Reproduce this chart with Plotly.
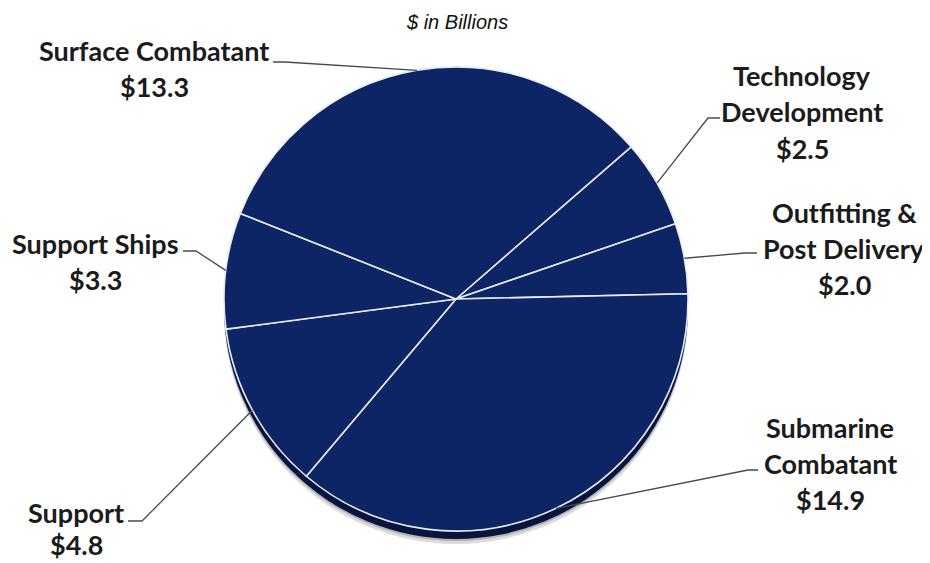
import math
import plotly.graph_objects as go

# ---- data ----
categories = ["Technology Development", "Outfitting & Post Delivery", "Submarine Combatant",
              "Support", "Support Ships", "Surface Combatant"]
values = [2.5, 2.0, 14.9, 4.8, 3.3, 13.3]
label_lines = [["Technology", "Development"], ["Outfitting &", "Post Delivery"],
               ["Submarine", "Combatant"], ["Support"], ["Support Ships"], ["Surface Combatant"]]
title_text = "$ in Billions"

# ---- layout (window pixels) ----
OFF = 8                      # page body margin
W, H = 930 - OFF, 563 - OFF  # figure size
cx, cy, r = 456, 299, 232
rotation = 49
# label text centre x, first-line y, line gap; leader (start, knee)
label_pos = [
    (802, 75, 36.5, (720, 118), (708, 118)),
    (844, 212, 36, (757, 253), (745, 253)),
    (830, 427, 36, (758, 470), (748, 470)),
    (76, 512, 32, (128, 521), (142, 521)),
    (95, 243, 36, (183, 251), (196, 251)),
    (154, 50, 36, (273, 62), (285, 62)),
]

def px(x):
    return (x - OFF) / W

def py(y):
    return 1 - (y - OFF) / H

NAVY = "#0d2564"
TXT = "#1b1b1b"
FONT = "Lato"

fig = go.Figure()
fig.add_trace(go.Pie(
    labels=categories, values=values, sort=False, direction="clockwise",
    rotation=rotation, textinfo="none", hoverinfo="label+value",
    marker=dict(colors=[NAVY] * len(values), line=dict(color="#e8ecf4", width=1.6)),
    domain=dict(x=[px(cx - r), px(cx + r)], y=[py(cy + r), py(cy - r)]),
    showlegend=False,
))

shapes = []
# shadow and rim below the pie face
for dy, col, op in [(13, "#9a9a9a", 0.35), (10, "#8a8a8a", 0.5), (8, "#06143f", 1.0)]:
    shapes.append(dict(type="circle", xref="paper", yref="paper", layer="below",
                       x0=px(cx - r), x1=px(cx + r), y0=py(cy + r + dy), y1=py(cy - r + dy),
                       fillcolor=col, opacity=op, line=dict(width=0)))

annotations = []
total = sum(values)
start = rotation
for i, v in enumerate(values):
    ang = v / total * 360
    mid = math.radians(start + ang / 2)
    start += ang
    ex = cx + r * math.sin(mid)
    ey = cy - r * math.cos(mid)
    tx, ty, gap, p0, p1 = label_pos[i]
    shapes.append(dict(type="path", xref="paper", yref="paper",
                       path=f"M {px(p0[0])},{py(p0[1])} L {px(p1[0])},{py(p1[1])} L {px(ex)},{py(ey)}",
                       line=dict(color="#4a4a4a", width=1.3)))
    lines = label_lines[i] + [f"${v:.1f}"]
    for k, t in enumerate(lines):
        annotations.append(dict(text=f"<b>{t}</b>", x=px(tx), y=py(ty + k * gap),
                                xref="paper", yref="paper", showarrow=False,
                                xanchor="center", yanchor="middle",
                                font=dict(family=FONT, size=27, color=TXT)))

annotations.append(dict(text=f"<i>{title_text}</i>", x=px(457), y=py(22), xref="paper", yref="paper",
                        showarrow=False, xanchor="center", yanchor="middle",
                        font=dict(family="Liberation Sans, Arial", size=20, color="#111111")))

fig.update_layout(width=W, height=H, margin=dict(l=0, r=0, t=0, b=0),
                  paper_bgcolor="white", plot_bgcolor="white",
                  shapes=shapes, annotations=annotations)
fig.write_html("out.html")
